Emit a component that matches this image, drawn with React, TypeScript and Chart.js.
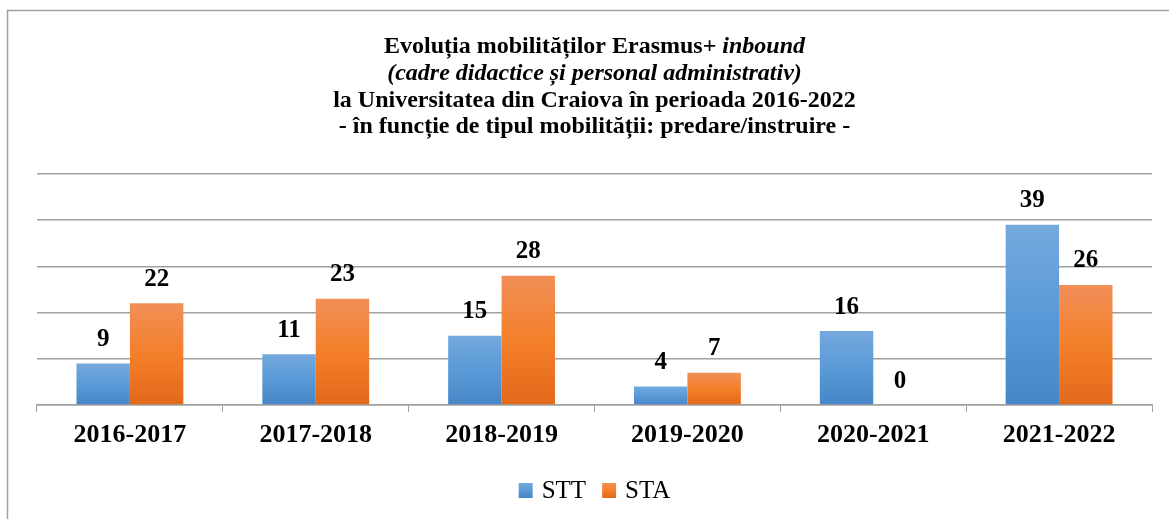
import React, { useEffect, useRef } from "react";
import { Chart, registerables } from "chart.js";

Chart.register(...registerables);

const categories = ["2016-2017", "2017-2018", "2018-2019", "2019-2020", "2020-2021", "2021-2022"];
const sttValues = [9, 11, 15, 4, 16, 39];
const staValues = [22, 23, 28, 7, 0, 26];
const seriesNames = ["STT", "STA"];
const titleLines: { text: string; italic: boolean }[][] = [
  [
    { text: "Evoluția mobilităților Erasmus+ ", italic: false },
    { text: "inbound", italic: true },
  ],
  [{ text: "(cadre didactice și personal administrativ)", italic: true }],
  [{ text: "la Universitatea din Craiova în perioada 2016-2022", italic: false }],
  [{ text: "- în funcție de tipul mobilității: predare/instruire -", italic: false }],
];

const FONT = '"Liberation Serif", "Times New Roman", serif';
const W = 1169;
const H = 519;

const blueStops = ["#74a9dd", "#5a9ad8", "#4686c6"];
const orangeStops = ["#f18f58", "#f47f2a", "#e2691b"];

function gradientFor(stops: string[]) {
  return (ctx: any) => {
    const chart = ctx.chart;
    const area = chart.chartArea;
    if (!area || ctx.type !== "data") return stops[1];
    const y = chart.scales.y;
    const v = ctx.raw as number;
    const top = y.getPixelForValue(v);
    const bottom = y.getPixelForValue(0);
    if (bottom - top < 1) return stops[1];
    const g = chart.ctx.createLinearGradient(0, top, 0, bottom);
    g.addColorStop(0, stops[0]);
    g.addColorStop(0.5, stops[1]);
    g.addColorStop(1, stops[2]);
    return g;
  };
}

const decorPlugin = {
  id: "decor",
  beforeDraw(chart: any) {
    const c = chart.ctx;
    c.save();
    c.fillStyle = "#ffffff";
    c.fillRect(0, 0, W, H);
    c.strokeStyle = "#a0a0a0";
    c.lineWidth = 1.5;
    c.beginPath();
    c.moveTo(7.5, H);
    c.lineTo(7.5, 10.5);
    c.lineTo(W, 10.5);
    c.stroke();
    c.restore();
  },
  afterDraw(chart: any) {
    const c = chart.ctx;
    const area = chart.chartArea;
    const cx = (area.left + area.right) / 2;
    c.save();
    c.fillStyle = "#000000";
    c.textBaseline = "alphabetic";
    c.textAlign = "left";
    const baselines = [53, 80, 107, 133];
    titleLines.forEach((line, i) => {
      let total = 0;
      const widths = line.map((seg) => {
        c.font = `${seg.italic ? "italic " : ""}bold 24px ${FONT}`;
        const w = c.measureText(seg.text).width;
        total += w;
        return w;
      });
      let x = cx - total / 2;
      line.forEach((seg, j) => {
        c.font = `${seg.italic ? "italic " : ""}bold 24px ${FONT}`;
        c.fillText(seg.text, x, baselines[i]);
        x += widths[j];
      });
    });

    // legend
    c.font = `25px ${FONT}`;
    const boxW = 14;
    const boxH = 15;
    const gapBoxText = 9;
    const gapItems = 16;
    const stopsList = [blueStops, orangeStops];
    let totalW = 0;
    const tw = seriesNames.map((n) => c.measureText(n).width);
    tw.forEach((w, i) => {
      totalW += boxW + gapBoxText + w + (i < tw.length - 1 ? gapItems : 0);
    });
    let lx = cx - totalW / 2;
    const boxTop = 483;
    seriesNames.forEach((n, i) => {
      const g = c.createLinearGradient(0, boxTop, 0, boxTop + boxH);
      g.addColorStop(0, stopsList[i][0]);
      g.addColorStop(0.5, stopsList[i][1]);
      g.addColorStop(1, stopsList[i][2]);
      c.fillStyle = g;
      c.fillRect(lx, boxTop, boxW, boxH);
      c.fillStyle = "#000000";
      c.textBaseline = "alphabetic";
      c.fillText(n, lx + boxW + gapBoxText, 498);
      lx += boxW + gapBoxText + tw[i] + gapItems;
    });
    c.restore();
  },
  afterDatasetsDraw(chart: any) {
    const c = chart.ctx;
    c.save();
    c.font = `bold 25px ${FONT}`;
    c.fillStyle = "#000000";
    c.textAlign = "center";
    c.textBaseline = "alphabetic";
    chart.data.datasets.forEach((ds: any, di: number) => {
      const meta = chart.getDatasetMeta(di);
      meta.data.forEach((el: any, i: number) => {
        c.fillText(String(ds.data[i]), el.x, el.y - 17.5);
      });
    });
    c.restore();
  },
};

export default function App() {
  const ref = useRef<HTMLCanvasElement | null>(null);
  useEffect(() => {
    if (!ref.current) return;
    const chart = new Chart(ref.current, {
      type: "bar",
      data: {
        labels: categories,
        datasets: [
          {
            label: seriesNames[0],
            data: sttValues,
            backgroundColor: gradientFor(blueStops),
            borderWidth: 0,
            categoryPercentage: 0.575,
            barPercentage: 1,
          },
          {
            label: seriesNames[1],
            data: staValues,
            backgroundColor: gradientFor(orangeStops),
            borderWidth: 0,
            categoryPercentage: 0.575,
            barPercentage: 1,
          },
        ],
      },
      options: {
        responsive: false,
        animation: false,
        layout: { padding: { top: 174, left: 37, right: 17, bottom: 0 } },
        plugins: {
          legend: { display: false },
          title: { display: false },
          tooltip: { enabled: false },
        },
        scales: {
          x: {
            afterFit: (s: any) => {
              s.height = 114;
            },
            grid: {
              display: true,
              drawOnChartArea: false,
              drawTicks: true,
              tickLength: 7,
              offset: true,
              color: "#a0a0a0",
            },
            border: { display: true, color: "#a0a0a0", width: 1.5 },
            ticks: {
              color: "#000000",
              font: { family: FONT, size: 26, weight: "bold" },
              padding: 8,
              maxRotation: 0,
            },
          },
          y: {
            min: 0,
            max: 50,
            afterFit: (s: any) => {
              s.width = 0;
            },
            ticks: { display: false, stepSize: 10 },
            grid: { color: "#a0a0a0", lineWidth: 1.5, drawTicks: false },
            border: { display: false },
          },
        },
      },
      plugins: [decorPlugin],
    });
    return () => chart.destroy();
  }, []);
  return (
    <div style={{ position: "absolute", left: 0, top: 0, width: W, height: H, background: "#fff" }}>
      <canvas ref={ref} width={W} height={H} style={{ width: W, height: H, display: "block" }} />
    </div>
  );
}
